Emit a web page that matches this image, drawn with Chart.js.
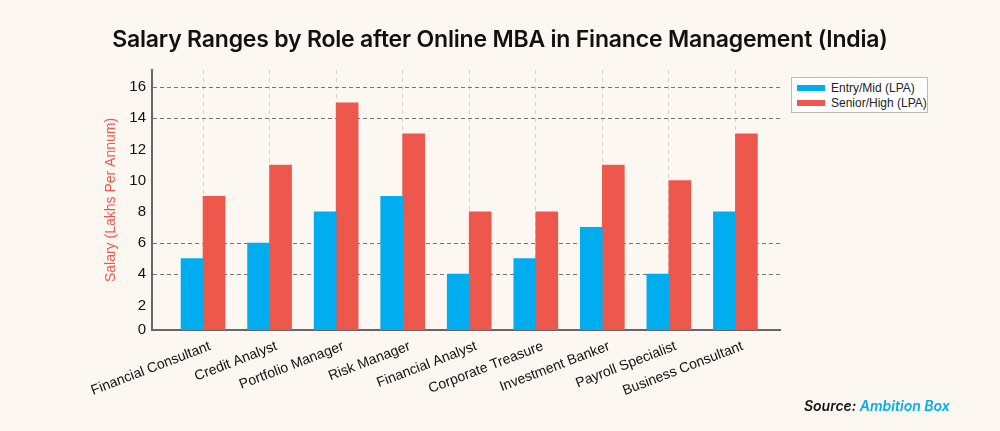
<!DOCTYPE html>
<html>
<head>
<meta charset="utf-8">
<script src="https://cdn.jsdelivr.net/npm/chart.js@4.4.1/dist/chart.umd.min.js"></script>
<style>
  html, body { margin:0; padding:0; background:#FCF8F1; }
  #wrap { position:relative; width:1000px; height:431px; overflow:hidden; background:#FCF8F1; }
  #c { position:absolute; left:0; top:0; }
  #title { position:absolute; left:0; width:1000px; top:25px; text-align:center; font-family:Inter, "Liberation Sans", sans-serif; font-weight:600; font-size:23px; color:#111; letter-spacing:-0.2px; }
  #legend { position:absolute; left:791px; top:77px; width:137px; height:36px; border:1px solid #bbb; background:#fff; box-sizing:border-box; font-family:"Liberation Sans", Arial, sans-serif; font-size:12px; color:#222; }
  .li { position:absolute; left:5px; height:14px; line-height:14px; white-space:nowrap; }
  .sw { display:inline-block; width:28px; height:6px; vertical-align:middle; margin-right:6px; position:relative; top:-1px; }
  #source { position:absolute; left:804px; top:397px; font-family:Inter, "Liberation Sans", sans-serif; font-style:italic; font-weight:600; font-size:14px; color:#111; white-space:nowrap; }
  #source span { color:#00ADEF; }
</style>
</head>
<body>
<div id="wrap">
  <canvas id="c" width="1000" height="431"></canvas>
  <div id="title">Salary Ranges by Role after Online MBA in Finance Management (India)</div>
  <div id="legend"></div>
  <div id="source">Source: <span>Ambition Box</span></div>
</div>
<script>
const categories = ["Financial Consultant","Credit Analyst","Portfolio Manager","Risk Manager","Financial Analyst","Corporate Treasure","Investment Banker","Payroll Specialist","Business Consultant"];
const entryMid = [5,6,8,9,4,5,7,4,8];
const seniorHigh = [9,11,15,13,8,8,11,10,13];
const seriesNames = ["Entry/Mid (LPA)","Senior/High (LPA)"];
const seriesColors = ["#00ADEF","#EE574B"];
const yTicks = [0,2,4,6,8,10,12,14,16];
const yTitle = "Salary (Lakhs Per Annum)";

const Y_MIN = 0.42, Y_MAX = 17.1;
const shownGrid = [4,6,14,16];

// legend
const lg = document.getElementById('legend');
seriesNames.forEach((n,i)=>{
  const d = document.createElement('div');
  d.className='li';
  d.style.top = (i===0 ? 3 : 18) + 'px';
  d.innerHTML = '<span class="sw" style="background:'+seriesColors[i]+'"></span>'+n;
  lg.appendChild(d);
});

const ctx = document.getElementById('c').getContext('2d');
new Chart(ctx, {
  type:'bar',
  data:{
    datasets:[
      {label:seriesNames[0], data:entryMid.map((v,i)=>({x:i,y:v})), backgroundColor:seriesColors[0], barThickness:22},
      {label:seriesNames[1], data:seniorHigh.map((v,i)=>({x:i,y:v})), backgroundColor:seriesColors[1], barThickness:22}
    ]
  },
  options:{
    responsive:false,
    animation:false,
    layout:{padding:{left:100, top:70, right:220, bottom:0}},
    plugins:{legend:{display:false}, tooltip:{enabled:false}},
    scales:{
      x:{
        type:'linear',
        offset:false,
        min:-0.767, max:8.67,
        afterBuildTicks:(s)=>{ s.ticks = categories.map((c,i)=>({value:i})); },
        afterFit:(s)=>{ s.height = 101; },
        ticks:{
          autoSkip:false, minRotation:21, maxRotation:21,
          callback:(v)=>categories[v] ?? '',
          font:{family:'"Liberation Sans", Arial, sans-serif', size:14},
          color:'#111', padding:8, labelOffset:7
        },
        grid:{offset:false, color:'#d2d2d2', lineWidth:1, drawTicks:false, tickLength:0},
        border:{display:true, color:'#666', width:2, dash:[4,4]},
      },
      y:{
        min:Y_MIN, max:Y_MAX,
        afterBuildTicks:(s)=>{ s.ticks = yTicks.map(v=>({value: v===0 ? Y_MIN : v})); },
        afterFit:(s)=>{ s.width = 52; },
        ticks:{
          callback:(v)=> v < 1 ? String(yTicks[0]) : String(v),
          font:{family:'"Liberation Sans", Arial, sans-serif', size:15},
          color:'#111', padding:6
        },
        grid:{
          drawTicks:false,
          color:(c)=> shownGrid.includes(c.tick && c.tick.value) ? '#777' : 'rgba(0,0,0,0)',
          lineWidth:1
        },
        border:{display:true, color:'#666', width:2, dash:[4,3]},
        title:{display:true, text:yTitle, color:'#EE574B', font:{family:'"Liberation Sans", Arial, sans-serif', size:14}, padding:{top:3,bottom:4}}
      }
    }
  }
});
</script>
</body>
</html>
